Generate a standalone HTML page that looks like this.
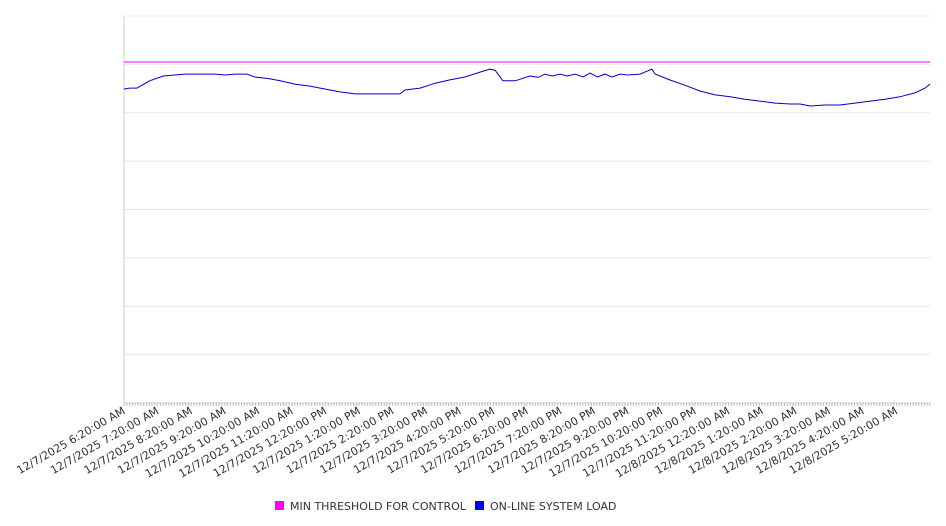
<!DOCTYPE html>
<html><head><meta charset="utf-8"><style>
body{margin:0;background:#fff;}
svg{display:block;font-family:"DejaVu Sans","Liberation Sans",sans-serif;}
</style></head><body>
<svg id="chart" width="946" height="526" viewBox="0 0 946 526">
<g id="grid"></g>
<g id="xaxis"></g>
<g id="series"></g>
<g>
<rect x="275" y="501" width="9" height="9" fill="#ff00ff"/>
<text x="290" y="510" font-size="11" fill="#333">MIN THRESHOLD FOR CONTROL</text>
<rect x="475" y="501" width="9" height="9" fill="#0000ff"/>
<text x="490" y="510" font-size="11" fill="#333">ON-LINE SYSTEM LOAD</text>
</g>
</svg>
<script>
const tickLabels=["12/7/2025 6:20:00 AM","12/7/2025 7:20:00 AM","12/7/2025 8:20:00 AM","12/7/2025 9:20:00 AM","12/7/2025 10:20:00 AM","12/7/2025 11:20:00 AM","12/7/2025 12:20:00 PM","12/7/2025 1:20:00 PM","12/7/2025 2:20:00 PM","12/7/2025 3:20:00 PM","12/7/2025 4:20:00 PM","12/7/2025 5:20:00 PM","12/7/2025 6:20:00 PM","12/7/2025 7:20:00 PM","12/7/2025 8:20:00 PM","12/7/2025 9:20:00 PM","12/7/2025 10:20:00 PM","12/7/2025 11:20:00 PM","12/8/2025 12:20:00 AM","12/8/2025 1:20:00 AM","12/8/2025 2:20:00 AM","12/8/2025 3:20:00 AM","12/8/2025 4:20:00 AM","12/8/2025 5:20:00 AM"];
const loadMinutes=[0,10,23,46,70,91,109,136,163,180,198,220,234,261,279,306,332,359,386,413,440,466,493,502,529,556,582,609,636,654,663,677,699,725,740,752,765,779,792,806,820,833,846,859,872,886,900,922,943,949,975,1002,1029,1056,1083,1109,1136,1163,1190,1208,1226,1252,1279,1306,1333,1360,1386,1413,1431,1440];
const loadValues=[649,651,651,666,676,678,680,680,680,678,680,680,674,670,666,659,655,649,643,639,639,639,639,647,651,661,668,674,684,690,688,666,666,676,673,680,676,680,676,680,674,682,674,680,674,680,678,680,690,680,668,657,645,637,633,628,624,620,618,618,614,616,616,620,624,628,633,641,651,659];
const thresholdValue=705;
const yTicks=[0,100,200,300,400,500,600,700,800];
const X0=124,X1=930,Y0=403,Y1=16,SPAN=1440,YMAX=800;
const xs=m=>X0+(X1-X0)*m/SPAN;
const ys=v=>Y0-(Y0-Y1)*v/YMAX;
const NS="http://www.w3.org/2000/svg";
function mk(tag,attrs,parent){const e=document.createElementNS(NS,tag);for(const k in attrs)e.setAttribute(k,attrs[k]);parent.appendChild(e);return e;}
const grid=document.getElementById('grid'),xa=document.getElementById('xaxis'),ser=document.getElementById('series');
yTicks.forEach(v=>{const l=mk('line',{x1:X0,x2:X1,y1:ys(v),y2:ys(v),stroke:'#e8e8e8','stroke-width':1},grid);

});
const ax=mk('line',{x1:X0,x2:X0,y1:Y1,y2:Y0,stroke:'#ccc'},xa);


const bx=mk('line',{x1:X0,x2:X1,y1:Y0,y2:Y0,stroke:'#ccc'},xa);


for(let m=0;m<=SPAN;m+=5){const t=mk('line',{x1:xs(m),x2:xs(m),y1:Y0,y2:Y0+3,stroke:'#bbb'},xa);

}
tickLabels.forEach((s,i)=>{const x=xs(i*60);const t=mk('text',{x:x+2,y:Y0+10,'font-size':11,fill:'#333','text-anchor':'end',transform:`rotate(-30 ${x+2} ${Y0+10})`},xa);t.textContent=s;

});
const th=mk('line',{x1:X0,x2:X1,y1:ys(thresholdValue),y2:ys(thresholdValue),stroke:'#ff00ff','stroke-width':1},ser);


const d=loadMinutes.map((m,i)=>(i?'L':'M')+xs(m).toFixed(1)+' '+ys(loadValues[i]).toFixed(1)).join(' ');
const ln=mk('path',{d:d,fill:'none',stroke:'#0000cc','stroke-width':1},ser);


</script>
</body></html>
